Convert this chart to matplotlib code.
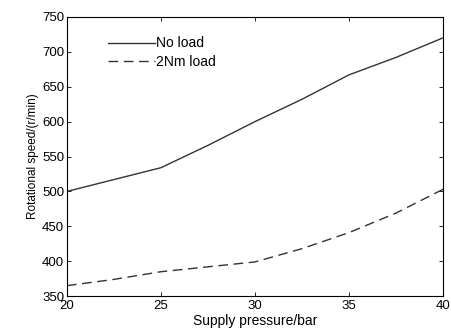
import matplotlib
matplotlib.use("Agg")
import matplotlib.pyplot as plt

pressure = [20, 22.5, 25, 27.5, 30, 32.5, 35, 37.5, 40]
no_load = [500, 517, 534, 566, 600, 632, 667, 692, 720]
load_2nm = [365, 374, 385, 392, 399, 418, 441, 469, 503]
xticks = [20, 25, 30, 35, 40]
yticks = [350, 400, 450, 500, 550, 600, 650, 700, 750]

plt.rcParams['font.family'] = ['Liberation Sans', 'DejaVu Sans']
fig = plt.figure(figsize=(4.52, 3.32), dpi=100)
ax = fig.add_axes([0.148, 0.108, 0.832, 0.841])
ax.plot(pressure, no_load, color='#333333', lw=1.0, ls='-', label='No load')
ax.plot(pressure, load_2nm, color='#333333', lw=1.0, ls=(0, (7, 4)), label='2Nm load')
ax.set_xlim(20, 40)
ax.set_ylim(350, 750)
ax.set_xticks(xticks)
ax.set_yticks(yticks)
ax.tick_params(direction='in', top=True, right=True, labelsize=9.5, length=3, width=0.6, pad=2)
ax.tick_params(axis='x', pad=3)
for s in ax.spines.values():
    s.set_linewidth(0.8)
ax.set_xlabel('Supply pressure/bar', fontsize=10, labelpad=1)
ax.set_ylabel('Rotational speed/(r/min)', fontsize=8.5, labelpad=2)
ax.legend(loc='upper left', bbox_to_anchor=(0.075, 0.975), frameon=False, fontsize=10,
          handlelength=3.4, handletextpad=0.1, labelspacing=0.35)
fig.savefig('out.png', dpi=100)
